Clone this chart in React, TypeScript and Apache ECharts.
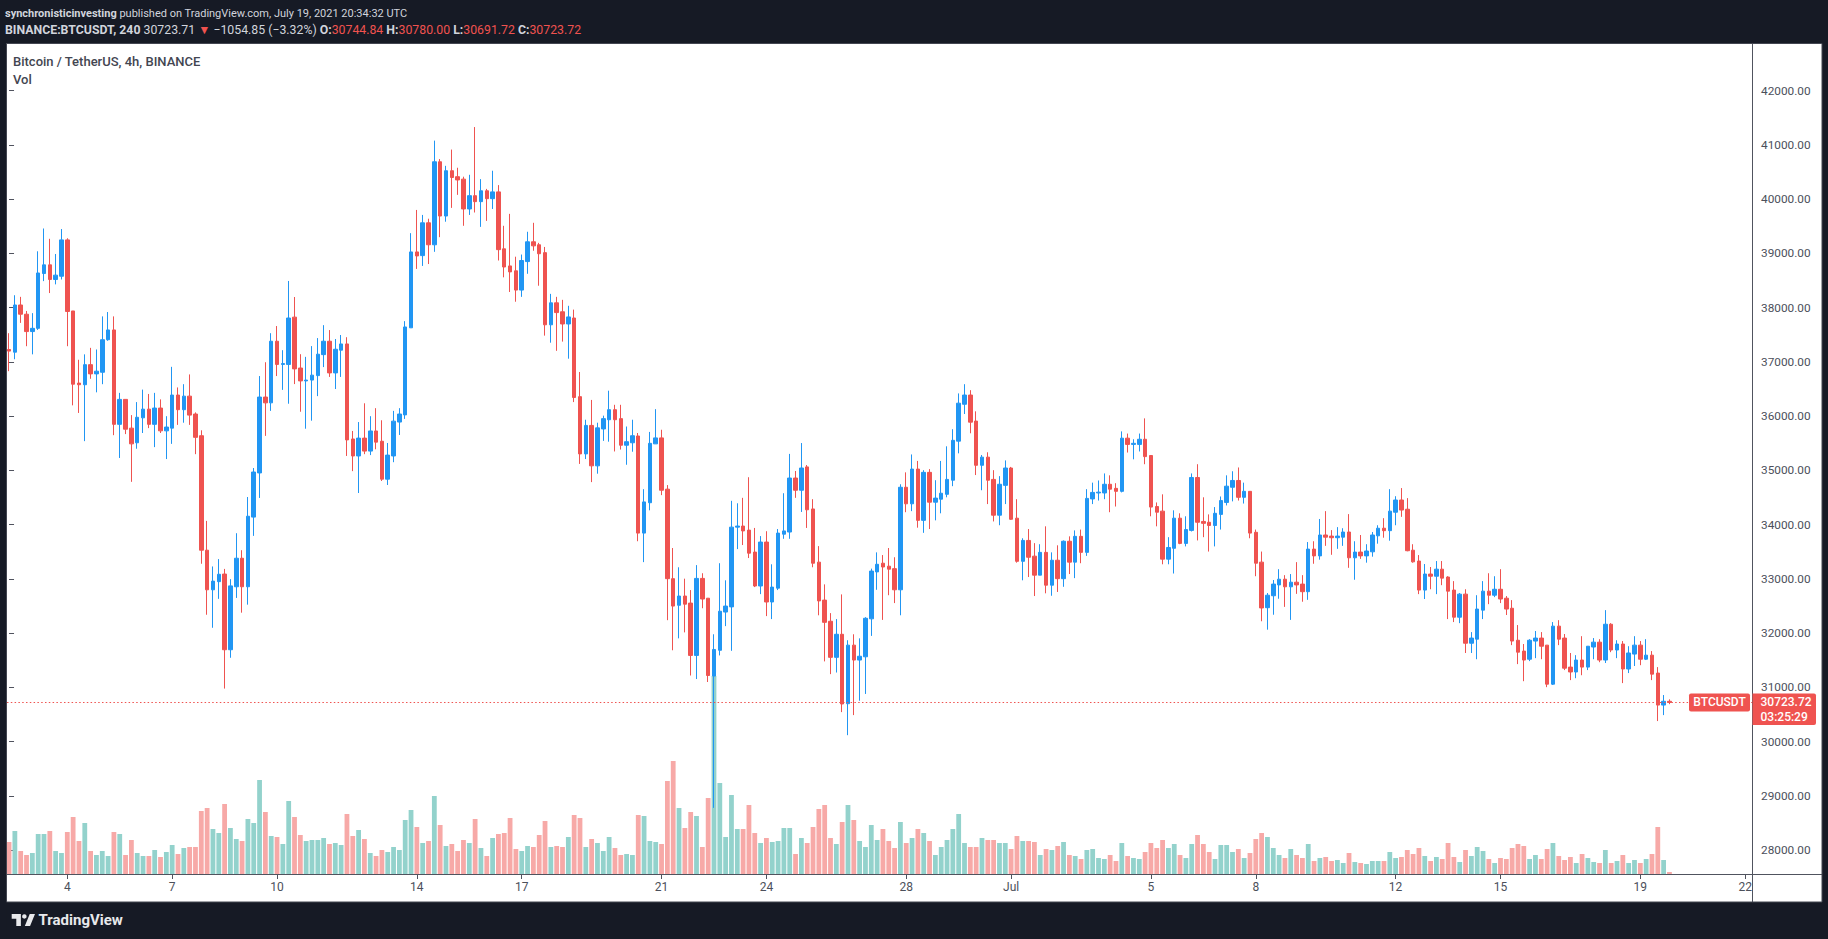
import { useEffect, useRef } from 'react';
import * as echarts from 'echarts';

// ---------- DATA (BINANCE:BTCUSDT 4h, 2 Jun 08:00 -> 19 Jul 20:00, 2021) ----------
const opens = [
  37230,37180,38050,37880,37560,37620,38630,38790,38520,38580,39250,37940,36610,36580,36950,36780,36810,37410,37590,35850,36310,35780,35510,35970,36130,35850,36150,35730,35780,36390,36120,36370,36040,35640,33530,32800,
  32950,33090,31695,32856,33382,32856,34140,34954,36353,36246,37382,36954,36954,37826,36888,36650,36666,36748,37135,37382,36798,37217,37332,35580,35267,35596,35357,35728,35538,34839,35267,35892,36024,37629,39028,38960,
  39565,39160,40690,39690,40525,40415,40370,39820,40065,39955,40155,40010,40135,39085,38770,38680,38325,38850,39215,39160,39015,37685,38090,37925,37700,37810,36360,35305,35830,35085,35765,35935,36120,35955,35465,35510,
  35635,33845,34405,35490,35600,34655,33005,32515,32685,32555,31590,33010,32645,31210,31685,32390,32485,33955,33975,33900,33495,32870,33680,32575,32830,33825,33865,34860,34635,35065,34290,33310,32610,32220,31555,31980,
  30700,31780,31505,31565,32265,33130,33290,33235,33190,32800,34690,34385,35025,34080,34965,34415,34470,34560,34820,35540,36220,36390,35910,35095,35245,34835,34175,34725,35045,34120,33325,33710,33420,33070,33490,32885,
  33345,33005,33695,33310,33785,33490,34475,34585,34585,34745,34670,34615,35595,35480,35480,35575,35275,34335,34250,33365,33565,34120,33655,33895,34870,34060,34045,33985,34190,34410,34690,34815,34505,34615,33860,33310,
  32470,32690,32890,32995,32855,32940,32905,32765,33550,33425,33810,33790,33760,33770,33865,33390,33495,33425,33500,33795,33935,33890,34230,34455,34285,33530,33330,32795,33090,33050,33180,33035,32795,32295,32720,31815,
  31890,32425,32775,32700,32810,32645,32460,31870,31670,31520,31855,31910,31780,31060,32130,31910,31375,31285,31505,31375,31745,31835,31505,32165,31690,31800,31340,31615,31780,31520,31595,31265,30675,30744.84,
];
const highs = [
  37530,38230,38200,37940,37900,39040,39460,39270,38990,39450,39280,37940,37040,37140,37260,37230,37840,37920,37840,36430,36310,36020,36260,36490,36410,36430,36310,36000,36910,36530,36590,36770,36070,35740,34070,33230,
  33366,33185,32996,33843,33530,34510,35045,36740,36995,37530,37662,37217,38493,38197,37143,37094,37292,37440,37678,37588,37423,37497,37456,35728,35892,36238,36000,36148,35925,35506,36098,36148,37752,39374,39802,39710,
  39640,41080,40740,40615,40915,40580,40415,40450,41330,40370,40190,40525,40260,39510,39730,38940,38980,39400,39565,39195,39120,38255,38200,38145,38035,37965,36815,35935,36300,35880,36010,36470,36210,36210,35810,35935,
  35690,34655,35710,36130,35750,34730,33570,33215,33005,32795,33255,33105,32645,31980,33290,32975,34440,34395,34495,34875,33940,33790,33880,33270,33920,34580,35305,34990,35505,35100,34470,33605,32900,32370,32260,32715,
  31870,31980,31905,32295,33190,33490,33440,33570,33400,34745,34965,35295,35175,35005,35025,34820,35175,35445,35760,36420,36590,36480,36090,35285,35335,35005,34895,35185,35065,34470,33750,33920,33660,33640,33970,33490,
  33620,33710,33785,33895,33910,34655,34775,34815,34945,34910,34765,35720,35680,35575,35680,35960,35275,34410,34560,33770,34265,34210,34155,34945,35115,34505,34190,34325,34520,34910,34985,35055,34775,34615,33910,33505,
  32740,32980,33180,33070,33090,33310,33070,33680,33695,34105,34250,33900,33955,33935,34195,33695,33810,33640,33865,33990,34120,34655,34525,34675,34490,33640,33440,33275,33220,33330,33330,33050,32960,32740,32810,32020,
  32700,32960,33105,33050,33180,32685,32610,32150,31800,31890,32040,32020,31780,32205,32240,31985,31635,31595,31945,31760,31910,31890,32425,32185,31870,31855,31760,31945,31855,31890,31670,31375,30860,30780,
];
const lows = [
  36830,37050,37720,37290,37140,37590,38490,38270,38430,38520,37290,36200,36060,35540,36690,36440,36590,37390,35650,35230,35670,34790,35400,35690,35780,35430,35690,35210,35490,35840,35880,35840,35300,33280,32340,32100,
  32633,30979,31547,32650,32378,32526,33794,34493,35637,36098,36740,36485,36230,36592,36082,35769,35917,36370,36905,36724,36501,36724,35267,34987,34584,35300,35283,35390,34806,34732,35152,35654,35950,37629,38715,38770,
  38805,39030,39300,39585,39840,40080,39510,39710,39755,39490,39600,39820,38870,38560,38290,38110,38200,38625,39050,38405,37485,37355,37205,37375,37060,36260,35120,35210,34785,34940,35545,35530,35350,35385,35105,35345,
  33695,33310,34265,35490,34545,32240,31685,31905,32015,31220,31155,32460,31100,28780,31590,32130,31675,33550,33625,33385,32850,32720,32315,32260,32795,33740,33740,34495,34235,33940,33215,32330,31480,31245,31275,30545,
  30120,30490,30755,30880,31950,32800,32245,32700,32555,32330,34230,34250,33945,33850,33920,34080,34210,34505,34710,35315,36040,35685,34915,34635,34380,34060,33990,34380,34090,33300,32975,33035,32685,33070,32735,32690,
  32760,32855,33090,33015,33290,33425,34380,34445,34470,34230,34335,34595,35330,35205,35350,35115,34155,33970,33270,33270,33100,33640,33600,33875,33710,33770,33505,33600,33910,34355,34430,34445,34390,33750,33050,32220,
  32065,32340,32635,32485,32245,32725,32580,32615,33280,33355,33610,33445,33555,33610,33205,32985,33370,33300,33410,33650,33760,33705,33990,34145,33510,33300,32720,32630,32810,32720,32885,32260,32205,32185,31635,31635,
  31520,32260,32535,32665,32555,32335,31780,31430,31115,31485,31540,31520,31005,31045,31780,31320,31135,31170,31225,31320,31520,31465,31450,31650,31540,31080,31265,31395,31410,31505,31135,30380,30490,30691.72,
];
const closes = [
  37200,38050,37880,37560,37620,38640,38790,38520,38600,39250,37930,36590,36580,36950,36780,36830,37410,37590,35850,36310,35760,35490,35980,36130,35850,36150,35730,35800,36390,36120,36370,36020,35610,33530,32800,32960,
  33086,31695,32872,33382,32856,34156,34971,36353,36246,37382,36954,36970,37810,36872,36650,36666,36757,37143,37382,36798,37234,37332,35563,35267,35596,35357,35728,35522,34839,35283,35909,36040,37645,39028,38954,39565,
  39160,40690,39690,40525,40400,40355,39820,40065,39955,40155,40010,40135,39070,38750,38660,38325,38870,39215,39140,38995,37685,38090,37910,37700,37830,36345,35305,35830,35085,35785,35955,36120,35935,35465,35530,35640,
  33845,34420,35500,35600,34635,33005,32500,32685,32535,31590,33010,32630,31220,31700,32405,32500,33955,33975,33885,33475,32870,33680,32575,32850,33845,33885,34860,34635,35045,34275,33290,32595,32200,31555,31980,30695,
  31780,31505,31575,32275,33145,33270,33220,33180,32800,34690,34385,35025,34080,34965,34415,34490,34580,34835,35555,36240,36390,35890,35095,35245,34820,34175,34745,35045,34100,33325,33710,33400,33070,33490,32885,33345,
  33005,33695,33310,33785,33490,34485,34595,34600,34745,34655,34615,35595,35480,35500,35575,35255,34325,34230,33365,33580,34120,33655,33910,34870,34045,34025,33985,34210,34445,34710,34815,34505,34615,33845,33290,32465,
  32700,32905,32995,32855,32940,32890,32765,33550,33425,33810,33770,33760,33790,33865,33390,33495,33425,33515,33810,33935,33890,34250,34455,34270,33520,33315,32795,33090,33050,33180,33015,32775,32295,32720,31815,31910,
  32445,32775,32700,32810,32630,32445,31855,31650,31505,31870,31910,31760,31060,32130,31890,31355,31285,31505,31375,31760,31835,31505,32165,31690,31800,31340,31635,31780,31520,31595,31245,30675,30745,30723.72,
];
const volumes = [
  9600,12900,6900,5700,6300,12000,12000,12900,6900,6300,12600,17100,9900,15300,6900,5700,6900,5400,12600,12000,5700,10200,6300,5400,5400,7200,5100,6600,8700,6000,7800,8100,8100,18900,19800,13500,
  12300,21000,13800,10500,9900,16500,15300,28200,18600,11400,11100,9000,21900,17100,11700,9900,10200,10200,10800,9000,9300,8700,18000,11400,13200,10500,6300,5400,7200,6600,8100,7200,16200,19200,14100,9300,
  9900,23400,14700,8400,9000,6900,10200,9300,16500,7800,5400,10800,12000,12300,16800,7500,6900,8400,8100,11700,15900,8100,8400,8100,11100,17700,16800,8100,10500,9300,6900,11100,7800,5700,6000,5700,
  17700,17400,9900,9600,9000,27900,33900,19800,13800,18600,17400,8100,22800,59400,27300,11100,23700,13500,13500,20700,12300,9300,10800,9600,9900,13800,13800,6000,10800,9300,14100,19500,20700,10800,9000,15600,
  20700,16200,9900,8100,14700,10200,13500,9900,7800,15600,9300,10800,13500,12300,9900,5700,8100,10200,13500,18000,9300,8100,8100,10800,10200,10200,9300,9300,7500,11400,9900,9900,9600,5700,7500,7200,
  8400,9600,5700,5400,4500,7200,7500,4800,4500,5700,3900,9300,5400,4800,4500,6600,9300,7800,10200,7800,9000,5700,4800,9000,11700,9000,6600,4500,8700,8700,6600,7500,4800,6300,10500,12300,
  11100,7800,5700,4800,7500,5700,4800,9000,3900,4800,5100,3900,4200,3300,6300,3600,3300,3000,3900,3900,3900,6600,4800,5100,7200,6000,7800,5400,3900,5100,4500,9300,5100,3600,7200,5400,
  8100,6900,4500,3300,4800,4500,7800,9000,8400,4500,5700,4500,7500,9300,5400,4200,5100,3300,6000,4800,3600,3300,7200,3300,3900,5700,3300,4200,3300,4500,6000,14100,4200,600,
];

// x-axis date ticks (index of 4h bar at 00:00 of that day) and their labels
const dayTickIndex = [10, 28, 46, 70, 88, 112, 130, 154, 172, 196, 214, 238, 256, 280, 298];
const dayTickLabels = ['4', '7', '10', '14', '17', '21', '24', '28', 'Jul', '5', '8', '12', '15', '19', '22'];
const priceTicks = [28000, 29000, 30000, 31000, 32000, 33000, 34000, 35000, 36000, 37000, 38000, 39000, 40000, 41000, 42000];

// ---------- STYLE / LAYOUT ----------
const DARK = '#161a25';
const UP = '#2196f3';
const DOWN = '#ef5350';
const VOL_UP = '#93d2cc';
const VOL_DOWN = '#f7a9a7';
const AXIS = '#50535e';
const LABEL = '#4c505b';
const FONT = 'Roboto, "Liberation Sans", sans-serif';

const GRID_L = 7, GRID_R = 1752, GRID_T = 44, GRID_B = 874;
const PRICE_MIN = 27561, PRICE_MAX = 42861;
const X_MIN = -0.35, X_MAX = 299.17;
const VOL_MAX = 249000;

echarts.graphic.registerShape(
  'tvlogo',
  echarts.graphic.extendPath('M14 22H7V11H0V4h14v18z M28 22h-8l7.5-18h8L28 22z', {})
);

export default function App() {
  const ref = useRef<HTMLDivElement>(null);

  useEffect(() => {
    if (!ref.current) return;
    const chart = echarts.init(ref.current, undefined, { renderer: 'svg' });

    const candleData = opens.map((o, i) => [i, o, closes[i], lows[i], highs[i]]);
    const volData = volumes.map((v, i) => ({
      value: [i, v],
      itemStyle: { color: closes[i] >= opens[i] ? VOL_UP : VOL_DOWN },
    }));
    const last = closes[closes.length - 1];
    const py = GRID_T + ((PRICE_MAX - last) / (PRICE_MAX - PRICE_MIN)) * (GRID_B - GRID_T);

    const option: any = {
      animation: false,
      backgroundColor: '#ffffff',
      grid: { left: GRID_L, right: 1828 - GRID_R, top: GRID_T, bottom: 939 - GRID_B, containLabel: false },
      xAxis: {
        type: 'value',
        min: X_MIN,
        max: X_MAX,
        axisLine: { show: false },
        splitLine: { show: false },
        axisTick: { show: true, customValues: dayTickIndex, length: 5, lineStyle: { color: AXIS } },
        axisLabel: {
          customValues: dayTickIndex,
          formatter: (v: number) => {
            const k = dayTickIndex.indexOf(Math.round(v));
            return k >= 0 ? dayTickLabels[k] : '';
          },
          color: LABEL,
          fontSize: 12,
          fontFamily: FONT,
          margin: 7,
        },
      },
      yAxis: [
        {
          type: 'value',
          position: 'right',
          min: PRICE_MIN,
          max: PRICE_MAX,
          axisLine: { show: false },
          splitLine: { show: false },
          axisTick: { show: true, customValues: priceTicks, length: 5, lineStyle: { color: AXIS } },
          axisLabel: {
            customValues: priceTicks,
            formatter: (v: number) => v.toFixed(2),
            color: LABEL,
            fontSize: 11.8,
            fontFamily: FONT,
            margin: 9,
          },
        },
        { type: 'value', min: 0, max: VOL_MAX, show: false, splitLine: { show: false } },
      ],
      series: [
        {
          type: 'bar',
          name: 'Vol',
          xAxisIndex: 0,
          yAxisIndex: 1,
          data: volData,
          barWidth: 4.8,
          z: 1,
          silent: true,
        },
        {
          type: 'candlestick',
          name: 'BTCUSDT',
          xAxisIndex: 0,
          yAxisIndex: 0,
          data: candleData,
          encode: { x: 0, y: [1, 2, 3, 4] },
          barWidth: 4,
          z: 3,
          itemStyle: {
            color: UP,
            color0: DOWN,
            borderColor: UP,
            borderColor0: DOWN,
            borderWidth: 1,
          },
          markLine: {
            silent: true,
            symbol: ['none', 'none'],
            label: { show: false },
            lineStyle: { color: DOWN, type: [1.5, 2.3], width: 1 },
            data: [{ yAxis: last }],
          },
        },
      ],
      graphic: [
        // dark frame
        { type: 'rect', z: 100, shape: { x: 0, y: 0, width: 1828, height: 43.5 }, style: { fill: DARK } },
        { type: 'rect', z: 100, shape: { x: 0, y: 902, width: 1828, height: 37 }, style: { fill: DARK } },
        { type: 'rect', z: 100, shape: { x: 0, y: 0, width: 6.5, height: 939 }, style: { fill: DARK } },
        { type: 'rect', z: 100, shape: { x: 1822, y: 0, width: 6, height: 939 }, style: { fill: DARK } },
        { type: 'rect', z: 101, shape: { x: 6.5, y: 43.5, width: 1815.5, height: 858.5 }, style: { fill: 'none', stroke: '#434651', lineWidth: 1 } },
        // axis borders
        { type: 'line', z: 50, shape: { x1: 1752.5, y1: 44, x2: 1752.5, y2: 902 }, style: { stroke: AXIS, lineWidth: 1 } },
        { type: 'line', z: 50, shape: { x1: 7, y1: 874.5, x2: 1822, y2: 874.5 }, style: { stroke: AXIS, lineWidth: 1 } },
        // last price labels
        { type: 'rect', z: 60, shape: { x: 1689, y: py - 9, width: 61, height: 18, r: 2 }, style: { fill: DOWN } },
        { type: 'text', z: 61, x: 1719.5, y: py, style: { text: 'BTCUSDT', fill: '#ffffff', font: `500 12px ${FONT}`, textAlign: 'center', textVerticalAlign: 'middle' } },
        { type: 'rect', z: 60, shape: { x: 1752.5, y: py - 9, width: 63.5, height: 31.5, r: [0, 2, 2, 0] }, style: { fill: DOWN } },
        { type: 'text', z: 61, x: 1760.5, y: py, style: { text: last.toFixed(2), fill: '#ffffff', font: `500 12px ${FONT}`, textAlign: 'left', textVerticalAlign: 'middle' } },
        { type: 'text', z: 61, x: 1760.5, y: py + 15, style: { text: '03:25:29', fill: '#ffffff', font: `500 12px ${FONT}`, textAlign: 'left', textVerticalAlign: 'middle' } },
        // header
        {
          type: 'text', z: 102, x: 5, y: 13.5,
          style: {
            text: '{b|synchronisticinvesting}{n| published on TradingView.com, July 19, 2021 20:34:32 UTC}',
            textVerticalAlign: 'middle',
            rich: {
              b: { fill: '#d1d4dc', fontSize: 11, fontWeight: 'bold', fontFamily: FONT },
              n: { fill: '#d1d4dc', fontSize: 11, fontFamily: FONT },
            },
          },
        },
        {
          type: 'text', z: 102, x: 5, y: 30,
          style: {
            text:
              '{b|BINANCE:BTCUSDT, 240}{n| 30723.71 }{r|▼}{n| −1054.85 (−3.32%) }{b|O:}{r|30744.84 }{b|H:}{r|30780.00 }{b|L:}{r|30691.72 }{b|C:}{r|30723.72}',
            textVerticalAlign: 'middle',
            rich: {
              b: { fill: '#d1d4dc', fontSize: 12.3, fontWeight: 'bold', fontFamily: FONT },
              n: { fill: '#d1d4dc', fontSize: 12.3, fontFamily: FONT },
              r: { fill: '#f0524f', fontSize: 12.3, fontFamily: FONT },
            },
          },
        },
        // legend
        { type: 'text', z: 102, x: 13, y: 61, style: { text: 'Bitcoin / TetherUS, 4h, BINANCE', fill: '#434651', font: `500 13px ${FONT}`, textVerticalAlign: 'middle' } },
        { type: 'text', z: 102, x: 13, y: 79, style: { text: 'Vol', fill: '#434651', font: `500 13px ${FONT}`, textVerticalAlign: 'middle' } },
        // TradingView logo
        { type: 'tvlogo', z: 102, x: 11.7, y: 911.5, scaleX: 0.656, scaleY: 0.656, style: { fill: '#e8e9ec' } },
        { type: 'circle', z: 102, shape: { cx: 11.7 + 19.3 * 0.656, cy: 911.5 + 7.5 * 0.656, r: 3.4 * 0.656 }, style: { fill: '#e8e9ec' } },
        { type: 'text', z: 102, x: 38.5, y: 920, style: { text: 'TradingView', fill: '#e8e9ec', font: `bold 15px ${FONT}`, textVerticalAlign: 'middle' } },
      ],
    };

    chart.setOption(option);
    return () => chart.dispose();
  }, []);

  return <div ref={ref} style={{ position: 'fixed', left: 0, top: 0, width: 1828, height: 939 }} />;
}
